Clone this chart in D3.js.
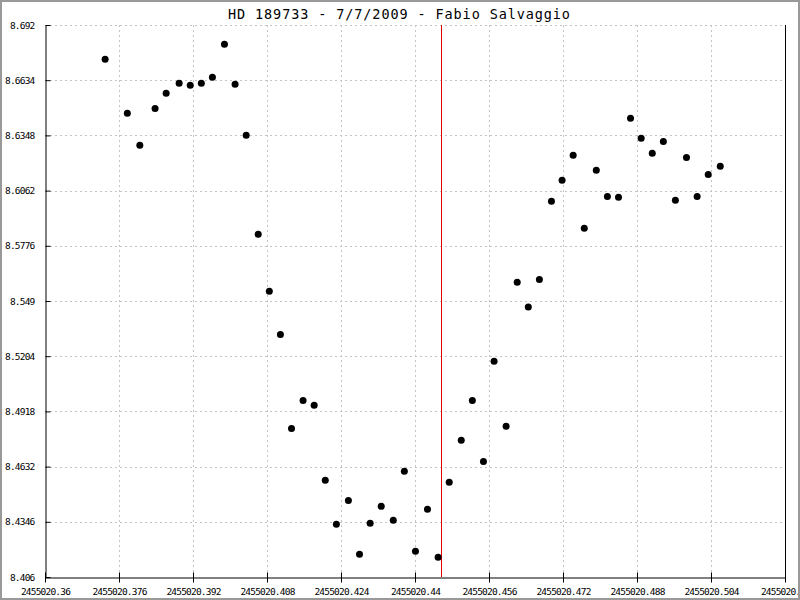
<!DOCTYPE html>
<html>
<head>
<meta charset="utf-8">
<script src="https://cdn.jsdelivr.net/npm/d3@7"></script>
<style>
  html, body { margin: 0; padding: 0; background: #fff; }
  svg { display: block; }
  text { font-family: "DejaVu Sans Mono", "Liberation Mono", monospace; fill: #000; }
</style>
</head>
<body>
<script>
// ---- data ----
const title = "HD 189733 - 7/7/2009 - Fabio Salvaggio";

const times = [
  2455020.3730, 2455020.3778, 2455020.3805, 2455020.3838, 2455020.3862, 2455020.3890,
  2455020.3914, 2455020.3938, 2455020.3962, 2455020.3988, 2455020.4011, 2455020.4035,
  2455020.4061, 2455020.4085, 2455020.4109, 2455020.4133, 2455020.4158, 2455020.4182,
  2455020.4206, 2455020.4230, 2455020.4256, 2455020.4280, 2455020.4303, 2455020.4327,
  2455020.4353, 2455020.4377, 2455020.4401, 2455020.4427, 2455020.4450, 2455020.4474,
  2455020.4500, 2455020.4524, 2455020.4548, 2455020.4571, 2455020.4597, 2455020.4621,
  2455020.4645, 2455020.4669, 2455020.4695, 2455020.4718, 2455020.4742, 2455020.4766,
  2455020.4792, 2455020.4816, 2455020.4840, 2455020.4866, 2455020.4889, 2455020.4913,
  2455020.4937, 2455020.4963, 2455020.4987, 2455020.5010, 2455020.5034, 2455020.5060
];

const magnitudes = [
  8.6742, 8.6463, 8.6297, 8.6488, 8.6566, 8.6618,
  8.6608, 8.6618, 8.6649, 8.6820, 8.6613, 8.6349,
  8.5836, 8.5540, 8.5317, 8.4830, 8.4975, 8.4950,
  8.4561, 8.4333, 8.4457, 8.4178, 8.4338, 8.4426,
  8.4354, 8.4608, 8.4193, 8.4411, 8.4162, 8.4551,
  8.4768, 8.4975, 8.4659, 8.5178, 8.4841, 8.5587,
  8.5459, 8.5602, 8.6007, 8.6115, 8.6245, 8.5867,
  8.6167, 8.6032, 8.6027, 8.6437, 8.6333, 8.6255,
  8.6317, 8.6012, 8.6234, 8.6032, 8.6146, 8.6188
];

const midTransit = [2455020.4457];

const xTickLabels = ["2455020.36", "2455020.376", "2455020.392", "2455020.408", "2455020.424",
  "2455020.44", "2455020.456", "2455020.472", "2455020.488", "2455020.504", "2455020.52"];
const yTickLabels = ["8.406", "8.4346", "8.4632", "8.4918", "8.5204", "8.549",
  "8.5776", "8.6062", "8.6348", "8.6634", "8.692"];

// ---- layout ----
const W = 800, H = 600;
const mLeft = 45, mRight = 785, mTop = 25, mBottom = 577;

const svg = d3.select("body").append("svg").attr("width", W).attr("height", H);

const xTicks = xTickLabels.map(Number);
const yTicks = yTickLabels.map(Number);

const x = d3.scaleLinear().domain([xTicks[0], xTicks[xTicks.length - 1]]).range([mLeft, mRight]);
const y = d3.scaleLinear().domain([yTicks[0], yTicks[yTicks.length - 1]]).range([mBottom, mTop]);

// grid
const grid = svg.append("g").attr("stroke", "#c4c4c4").attr("stroke-width", 1).attr("stroke-dasharray", "2,3");
grid.selectAll("line.gx").data(xTicks.slice(1, -1)).enter().append("line")
  .attr("x1", d => Math.round(x(d)) + 0.5).attr("x2", d => Math.round(x(d)) + 0.5)
  .attr("y1", mTop).attr("y2", mBottom);
grid.selectAll("line.gy").data(yTicks.slice(1)).enter().append("line")
  .attr("y1", d => Math.round(y(d)) + 0.5).attr("y2", d => Math.round(y(d)) + 0.5)
  .attr("x1", mLeft).attr("x2", mRight);

// mid-transit line
svg.selectAll("line.mid").data(midTransit).enter().append("line")
  .attr("x1", d => Math.round(x(d)) + 0.5).attr("x2", d => Math.round(x(d)) + 0.5)
  .attr("y1", mTop).attr("y2", mBottom)
  .attr("stroke", "#e00000").attr("stroke-width", 1);

// right edge line
svg.append("line")
  .attr("x1", mRight + 0.5).attr("x2", mRight + 0.5).attr("y1", mTop).attr("y2", mBottom)
  .attr("stroke", "#000");

// axes
const xAxis = d3.axisBottom(x).tickValues(xTicks).tickFormat((d, i) => xTickLabels[i])
  .tickSizeInner(5).tickSizeOuter(0).tickPadding(6);
const gx = svg.append("g").attr("transform", `translate(0,${mBottom + 0.5})`).call(xAxis);
gx.selectAll(".tick line").attr("y1", -5).attr("stroke", "#000");
gx.select(".domain").attr("stroke", "#000");
gx.selectAll("text").attr("font-size", "9.5px").attr("letter-spacing", "-0.8px")
  .attr("font-family", "DejaVu Sans Mono");

const yAxis = d3.axisLeft(y).tickValues(yTicks).tickFormat((d, i) => yTickLabels[i])
  .tickSizeInner(5).tickSizeOuter(0).tickPadding(6);
const gy = svg.append("g").attr("transform", `translate(${mLeft + 0.5},0)`).call(yAxis);
gy.selectAll(".tick line").attr("x2", 5).attr("stroke", "#000");
gy.select(".domain").attr("stroke", "#000");
gy.selectAll("text").attr("font-size", "9.5px").attr("letter-spacing", "-0.8px")
  .attr("font-family", "DejaVu Sans Mono");

// points
svg.append("g").selectAll("circle").data(times).enter().append("circle")
  .attr("cx", (d, i) => x(d))
  .attr("cy", (d, i) => y(magnitudes[i]))
  .attr("r", 3.5)
  .attr("fill", "#000");

// title
svg.append("text")
  .attr("x", 399).attr("y", 18.5)
  .attr("text-anchor", "middle")
  .attr("font-size", "13.5px")
  .attr("textLength", 342).attr("lengthAdjust", "spacing")
  .text(title);

// outer frame
svg.append("rect").attr("x", 1).attr("y", 1).attr("width", W - 2).attr("height", H - 2)
  .attr("fill", "none").attr("stroke", "#999").attr("stroke-width", 2);
</script>
</body>
</html>
